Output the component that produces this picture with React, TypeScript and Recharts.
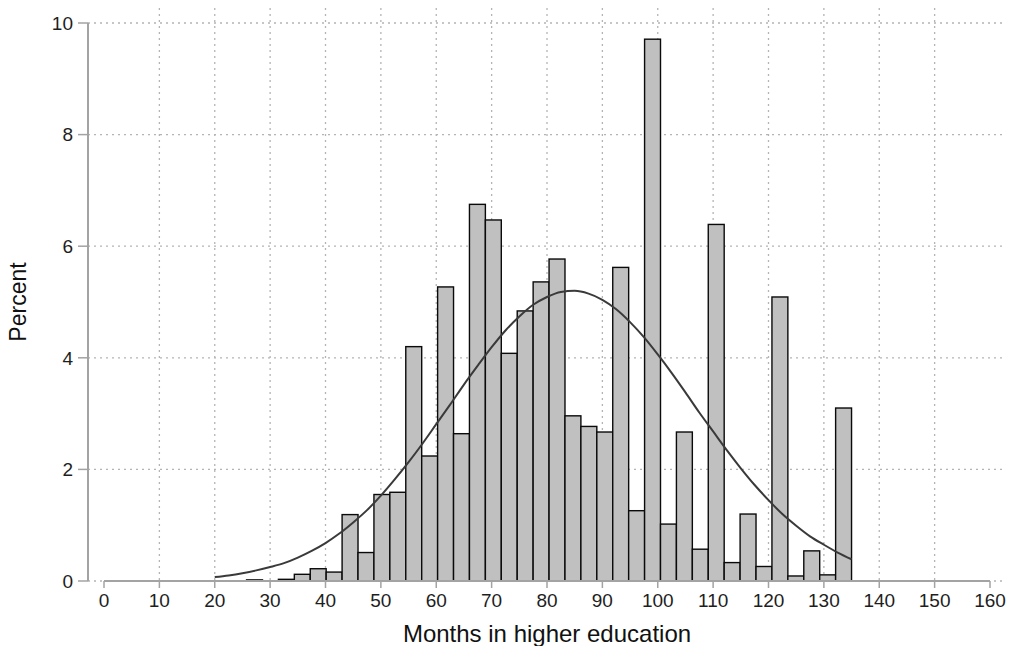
import {
  Bar,
  CartesianGrid,
  ComposedChart,
  Line,
  ReferenceLine,
  XAxis,
  YAxis,
} from 'recharts';

// histogram bins: 40 bins of 2.875 months starting at 20
const BIN_START = 20;
const BIN_WIDTH = 2.875;
const binPercent = [
  0, 0, 0.02, 0, 0.03, 0.12, 0.22, 0.16, 1.19, 0.51,
  1.55, 1.59, 4.2, 2.24, 5.27, 2.64, 6.75, 6.47, 4.08, 4.84,
  5.36, 5.77, 2.96, 2.77, 2.67, 5.62, 1.26, 9.71, 1.02, 2.67,
  0.57, 6.39, 0.33, 1.2, 0.26, 5.09, 0.09, 0.54, 0.11, 3.1,
];

// normal density overlay
const curveMonths = [
  20, 22.5, 25, 27.5, 30, 32.5, 35, 37.5, 40, 42.5, 45, 47.5, 50, 52.5, 55,
  57.5, 60, 62.5, 65, 67.5, 70, 72.5, 75, 77.5, 80, 82.5, 85, 87.5, 90, 92.5,
  95, 97.5, 100, 102.5, 105, 107.5, 110, 112.5, 115, 117.5, 120, 122.5, 125,
  127.5, 130, 132.5, 135,
];
const curvePercent = [
  0.07, 0.1, 0.14, 0.19, 0.25, 0.32, 0.42, 0.54, 0.68, 0.85, 1.05, 1.27, 1.53,
  1.82, 2.13, 2.46, 2.81, 3.16, 3.52, 3.86, 4.19, 4.49, 4.74, 4.95, 5.09, 5.18,
  5.2, 5.15, 5.04, 4.87, 4.64, 4.37, 4.06, 3.73, 3.38, 3.02, 2.68, 2.34, 2.02,
  1.72, 1.45, 1.2, 0.99, 0.8, 0.65, 0.51, 0.39,
];

const xTicks = [0, 10, 20, 30, 40, 50, 60, 70, 80, 90, 100, 110, 120, 130, 140, 150, 160];
const yTicks = [0, 2, 4, 6, 8, 10];
const gridMonths = [10, 20, 30, 40, 50, 60, 70, 80, 90, 100, 110, 120, 130, 140, 150];

const WIDTH = 1014;
const HEIGHT = 646;
const MARGIN = { top: 23, right: 8, bottom: 0, left: 0 };
const Y_AXIS_WIDTH = 88;
const X_AXIS_HEIGHT = 65;
const X_PAD = 16;
const X_MAX = 160;

const plotWidth = WIDTH - MARGIN.left - MARGIN.right - Y_AXIS_WIDTH - 2 * X_PAD;
const barPx = (BIN_WIDTH / X_MAX) * plotWidth;
const plotBottom = HEIGHT - MARGIN.bottom - X_AXIS_HEIGHT;

const bins = binPercent.map((pct, i) => ({
  x: BIN_START + BIN_WIDTH * (i + 0.5),
  pct,
}));
const curve = curveMonths.map((x, i) => ({ x, curve: curvePercent[i] }));

const AXIS_GRAY = '#a3a3a3';
const GRID_GRAY = '#b4b4b4';
const tickStyle = { fill: '#1e1e1e', fontSize: 19 };

// recharts squeezes bars on a numeric axis, so widen each one to a full bin
// around the centre the library computed
function BinBar(props: any) {
  const { x, y, width, height } = props;
  if (!height || height <= 0) return null;
  const cx = x + width / 2;
  return (
    <rect
      x={cx - barPx / 2}
      y={y}
      width={barPx}
      height={height}
      fill="#c0c0c0"
      stroke="#0a0a0a"
      strokeWidth={1.4}
    />
  );
}

export default function App() {
  return (
    <div style={{ fontFamily: "'Liberation Sans', Arial, sans-serif" }}>
      <style>{'body{margin:0;background:#fff}'}</style>
      <ComposedChart width={WIDTH} height={HEIGHT} data={bins} margin={MARGIN}>
        <CartesianGrid
          stroke={GRID_GRAY}
          strokeDasharray="2 4"
          strokeWidth={1.3}
          verticalValues={gridMonths}
          y={MARGIN.top - 15}
          height={plotBottom - MARGIN.top + 15}
        />
        <XAxis
          type="number"
          dataKey="x"
          domain={[0, X_MAX]}
          ticks={xTicks}
          interval={0}
          padding={{ left: X_PAD, right: X_PAD }}
          height={X_AXIS_HEIGHT}
          axisLine={false}
          tickLine={{ stroke: AXIS_GRAY, strokeWidth: 1.5 }}
          tickSize={7}
          tickMargin={6}
          tick={tickStyle}
          allowDataOverflow
          label={{
            value: 'Months in higher education',
            position: 'insideBottom',
            offset: 4,
            style: { fill: '#111', fontSize: 24 },
          }}
        />
        <YAxis
          type="number"
          domain={[0, 10]}
          ticks={yTicks}
          interval={0}
          width={Y_AXIS_WIDTH}
          axisLine={{ stroke: AXIS_GRAY, strokeWidth: 2 }}
          tickLine={{ stroke: AXIS_GRAY, strokeWidth: 1.5 }}
          tickSize={10}
          tickMargin={5}
          tick={tickStyle}
          allowDataOverflow
          label={{
            value: 'Percent',
            angle: -90,
            position: 'insideLeft',
            offset: 18,
            style: { fill: '#111', fontSize: 23, textAnchor: 'middle' },
          }}
        />
        <ReferenceLine
          segment={[
            { x: 0, y: 0 },
            { x: X_MAX, y: 0 },
          ]}
          stroke={AXIS_GRAY}
          strokeWidth={2}
        />
        <Bar
          dataKey="pct"
          shape={BinBar}
          barSize={barPx}
          isAnimationActive={false}
        />
        <Line
          data={curve}
          dataKey="curve"
          type="monotone"
          stroke="#3a3a3a"
          strokeWidth={2}
          dot={false}
          activeDot={false}
          isAnimationActive={false}
        />
      </ComposedChart>
    </div>
  );
}
